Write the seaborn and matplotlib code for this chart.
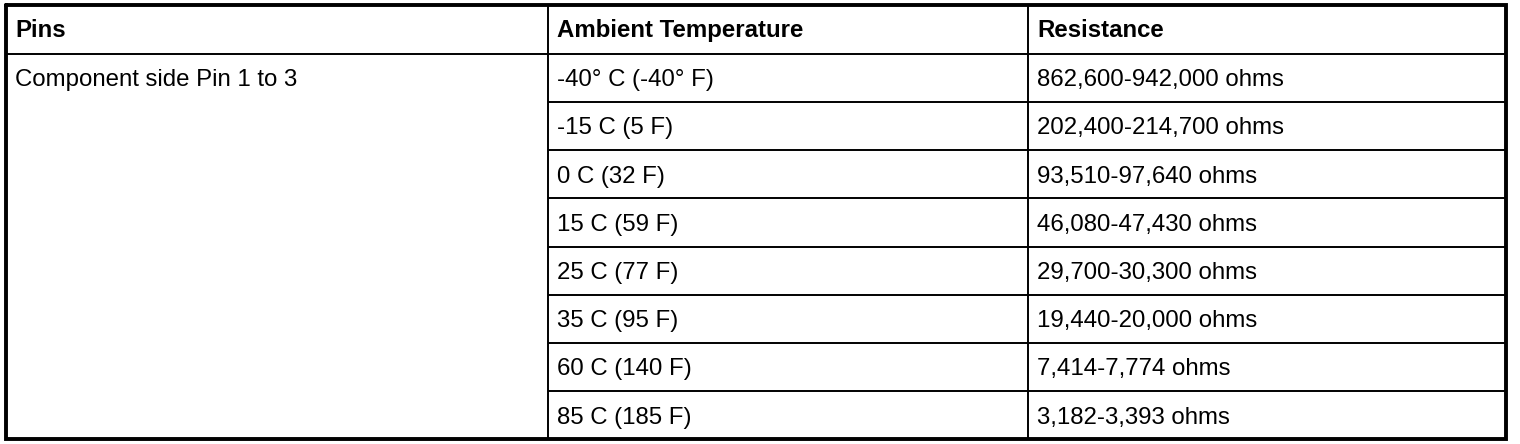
import matplotlib.pyplot as plt
import seaborn as sns

sns.set_theme(style="white")
plt.rcParams["font.family"] = ["Liberation Sans", "DejaVu Sans"]

# table content
headers = ["Pins", "Ambient Temperature", "Resistance"]
pins = "Component side Pin 1 to 3"
temperatures = ["-40° C (-40° F)", "-15 C (5 F)", "0 C (32 F)", "15 C (59 F)",
                "25 C (77 F)", "35 C (95 F)", "60 C (140 F)", "85 C (185 F)"]
resistances = ["862,600-942,000 ohms", "202,400-214,700 ohms", "93,510-97,640 ohms",
               "46,080-47,430 ohms", "29,700-30,300 ohms", "19,440-20,000 ohms",
               "7,414-7,774 ohms", "3,182-3,393 ohms"]

# layout in pixels
col_x = [6, 548, 1028, 1506]
top, row_h = 5.5, 48.2
n_rows = len(temperatures) + 1
bottom = top + row_h * n_rows

fig = plt.figure(figsize=(15.2, 4.44), dpi=100)
ax = fig.add_axes([0, 0, 1, 1])
ax.set_xlim(0, 1520)
ax.set_ylim(444, 0)
ax.axis("off")

fs = 17.3
pad = 9
base = 32.5

# header
for x0, h in zip(col_x[:-1], headers):
    ax.text(x0 + pad, top + base - 1, h, fontsize=fs, fontweight="bold",
            va="baseline", ha="left", color="black")

# rows
ax.text(col_x[0] + pad, top + row_h + base, pins, fontsize=fs,
        va="baseline", ha="left", color="black")
for i, (t, r) in enumerate(zip(temperatures, resistances)):
    yb = top + row_h * (i + 1) + base
    ax.text(col_x[1] + pad, yb, t, fontsize=fs, va="baseline", ha="left", color="black")
    ax.text(col_x[2] + pad, yb, r, fontsize=fs, va="baseline", ha="left", color="black")

# grid lines
ax.hlines(top + row_h, col_x[0], col_x[-1], color="black", lw=1.4)
for i in range(2, n_rows):
    ax.hlines(top + row_h * i, col_x[1], col_x[-1], color="black", lw=1.4)
for x in col_x[1:-1]:
    ax.vlines(x, top, bottom, color="black", lw=1.4)

# outer border
ax.plot([col_x[0], col_x[-1], col_x[-1], col_x[0], col_x[0]],
        [top, top, bottom, bottom, top], color="black", lw=2.8,
        solid_joinstyle="miter")

fig.savefig("out.png", dpi=100)
